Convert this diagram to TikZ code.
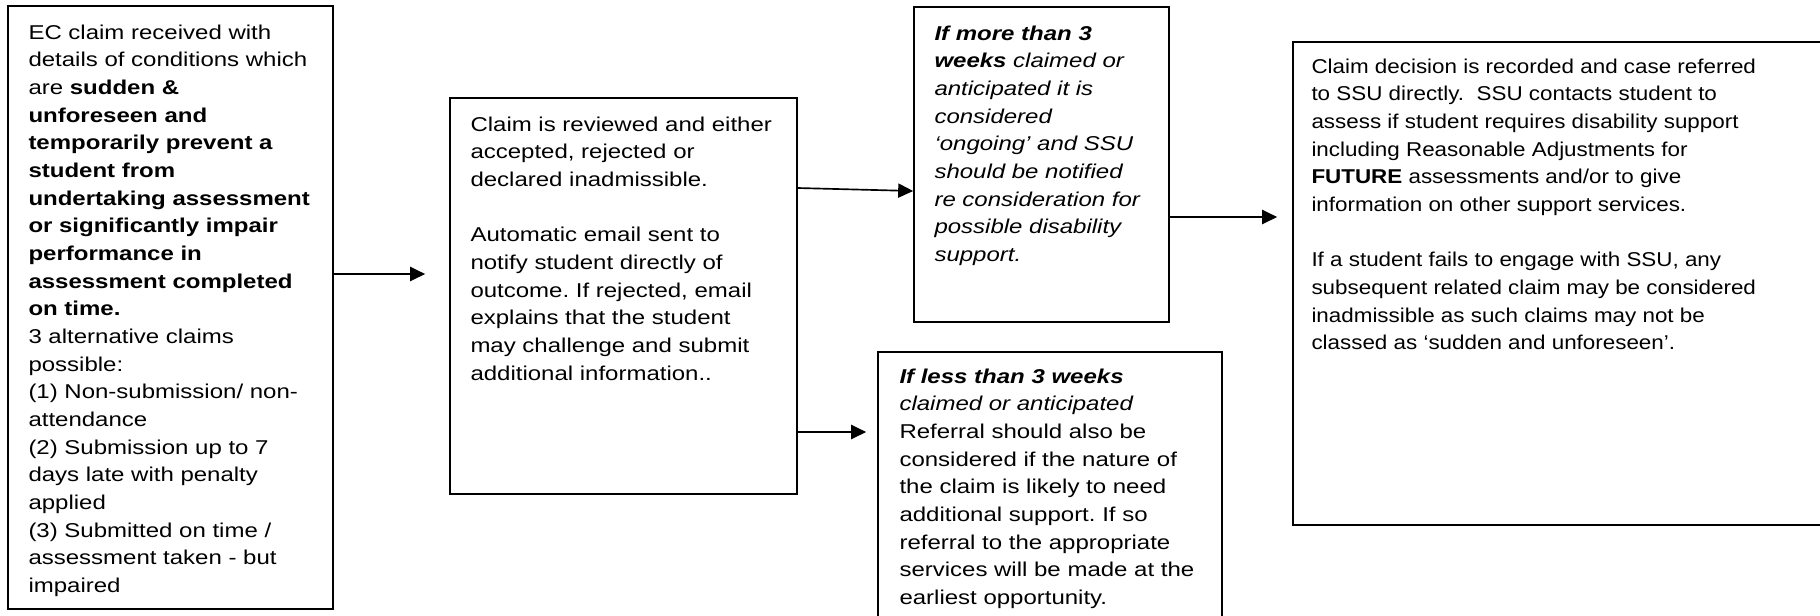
\documentclass[tikz,border=0pt]{standalone}
\usepackage{fontspec}
\setmainfont{Liberation Sans}[FakeStretch=1.2]
\newfontfamily\ssufont{Liberation Sans}[FakeStretch=1.12]
\usetikzlibrary{arrows.meta, fit}
\frenchspacing

\begin{document}
\begin{tikzpicture}
    [x=0.6pt, y=-0.6pt,
     box/.style={draw, line width=1pt, inner sep=0pt},
     txt/.style={anchor=north west, inner sep=0pt, align=left,
                 font=\fontsize{12}{16.6}\selectfont},
     arr/.style={line width=1pt, -{Triangle[length=9pt, width=8.5pt]}}]
    \clip (0,0) rectangle (1820,615);

    % boxes
    \node [box, fit={(8,6) (333,609)}] (claim) {};
    \node [box, fit={(450,98) (797,494)}] (review) {};
    \node [box, fit={(914,7) (1169,322)}] (over) {};
    \node [box, fit={(878,352) (1222,660)}] (under) {};
    \node [box, fit={(1293,42) (1860,525)}] (ssu) {};

    % texts
    \node [txt] (claim-txt) at ([shift={(21,19)}]claim.north west)
        {EC claim received with\\
         details of conditions which\\
         are \textbf{sudden \&}\\
         \textbf{unforeseen and}\\
         \textbf{temporarily prevent a}\\
         \textbf{student from}\\
         \textbf{undertaking assessment}\\
         \textbf{or significantly impair}\\
         \textbf{performance in}\\
         \textbf{assessment completed}\\
         \textbf{on time.}\\
         3 alternative claims\\
         possible:\\
         (1) Non-submission/ non-\\
         attendance\\
         (2) Submission up to 7\\
         days late with penalty\\
         applied\\
         (3) Submitted on time /\\
         assessment taken - but\\
         impaired};
    \node [txt] (review-txt) at ([shift={(21,19)}]review.north west)
        {Claim is reviewed and either\\
         accepted, rejected or\\
         declared inadmissible.\\[16.6pt]
         Automatic email sent to\\
         notify student directly of\\
         outcome. If rejected, email\\
         explains that the student\\
         may challenge and submit\\
         additional information..};
    \node [txt, font=\fontsize{12}{16.6}\selectfont\itshape] (over-txt) at ([shift={(21,19)}]over.north west)
        {\textbf{If more than 3}\\
         \textbf{weeks} claimed or\\
         anticipated it is\\
         considered\\
         ‘ongoing’ and SSU\\
         should be notified\\
         re consideration for\\
         possible disability\\
         support.};
    \node [txt] (under-txt) at ([shift={(22,17)}]under.north west)
        {\textbf{\textit{If less than 3 weeks}}\\
         \textit{claimed or anticipated}\\
         Referral should also be\\
         considered if the nature of\\
         the claim is likely to need\\
         additional support. If so\\
         referral to the appropriate\\
         services will be made at the\\
         earliest opportunity.};
    \node [txt, font=\fontsize{12}{16.6}\ssufont] (ssu-txt) at ([shift={(19,17)}]ssu.north west)
        {Claim decision is recorded and case referred\\
         to SSU directly.\ \ SSU contacts student to\\
         assess if student requires disability support\\
         including Reasonable Adjustments for\\
         \textbf{FUTURE} assessments and/or to give\\
         information on other support services.\\[16.6pt]
         If a student fails to engage with SSU, any\\
         subsequent related claim may be considered\\
         inadmissible as such claims may not be\\
         classed as ‘sudden and unforeseen’.};

    % arrows
    \coordinate (y1) at (0,274);
    \coordinate (y2) at (0,188);
    \coordinate (y2b) at (0,191);
    \coordinate (y3) at (0,432);
    \coordinate (y4) at (0,217);
    \draw [arr, shorten >=14.4pt] (claim.east |- y1) -- (review.west |- y1);
    \draw [arr] (review.east |- y2) -- (over.west |- y2b);
    \draw [arr, shorten >=6.6pt] (review.east |- y3) -- (under.west |- y3);
    \draw [arr, shorten >=9pt] (over.east |- y4) -- (ssu.west |- y4);
\end{tikzpicture}
\end{document}
